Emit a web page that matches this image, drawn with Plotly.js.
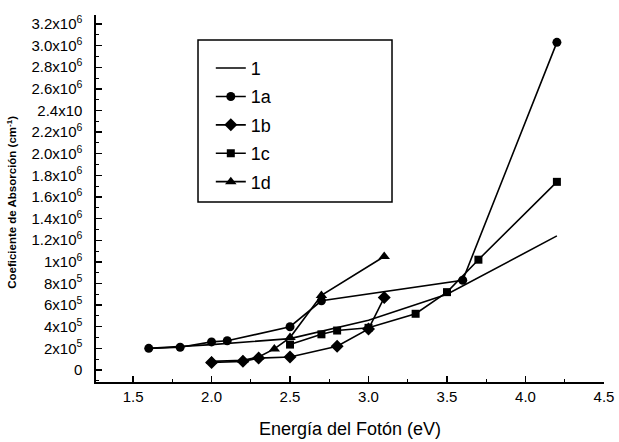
<!DOCTYPE html>
<html>
<head>
<meta charset="utf-8">
<script src="https://cdn.plot.ly/plotly-3.0.1.min.js"></script>
<style>html,body{margin:0;padding:0;background:#fff;}#chart{width:619px;height:442px;}</style>
</head>
<body>
<div id="chart"></div>
<script>
// Data
var x1  = [1.6, 2.0, 2.5, 3.0, 3.5, 4.2];
var y1  = [200000, 235000, 290000, 460000, 700000, 1240000];

var x1a = [1.6, 1.8, 2.0, 2.1, 2.5, 2.7, 3.6, 4.2];
var y1a = [200000, 210000, 260000, 270000, 400000, 640000, 830000, 3030000];

var x1b = [2.0, 2.2, 2.3, 2.5, 2.8, 3.0, 3.1];
var y1b = [70000, 80000, 110000, 120000, 220000, 380000, 670000];

var x1c = [2.5, 2.7, 2.8, 3.0, 3.3, 3.5, 3.7, 4.2];
var y1c = [235000, 330000, 365000, 390000, 520000, 720000, 1020000, 1740000];

var x1d = [2.0, 2.2, 2.3, 2.4, 2.5, 2.7, 3.1];
var y1d = [80000, 90000, 120000, 195000, 300000, 690000, 1050000];

var seriesNames = ['1', '1a', '1b', '1c', '1d'];

var yTickVals = [0, 200000, 400000, 600000, 800000, 1000000, 1200000, 1400000, 1600000,
                 1800000, 2000000, 2200000, 2400000, 2600000, 2800000, 3000000, 3200000];
var yTickText = ['0', '2x10<sup>5</sup>', '4x10<sup>5</sup>', '6x10<sup>5</sup>', '8x10<sup>5</sup>',
                 '1x10<sup>6</sup>', '1.2x10<sup>6</sup>', '1.4x10<sup>6</sup>', '1.6x10<sup>6</sup>',
                 '1.8x10<sup>6</sup>', '2.0x10<sup>6</sup>', '2.2x10<sup>6</sup>', '2.4x10',
                 '2.6x10<sup>6</sup>', '2.8x10<sup>6</sup>', '3.0x10<sup>6</sup>', '3.2x10<sup>6</sup>'];
var xTickVals = [1.5, 2.0, 2.5, 3.0, 3.5, 4.0, 4.5];
var xTickText = ['1.5', '2.0', '2.5', '3.0', '3.5', '4.0', '4.5'];

var yTitle = 'Coeficiente de Absorción (cm<sup>-1</sup>)';
var xTitle = 'Energía del Fotón (eV)';

var line = {color: '#000', width: 1.6};
function tr(x, y, name, mode, symbol, size) {
  var t = {x: x, y: y, name: name, mode: mode, type: 'scatter', line: line,
           legendgroup: name, cliponaxis: false};
  if (symbol) t.marker = {symbol: symbol, size: size, color: '#000'};
  return t;
}
var data = [
  tr(x1, y1, seriesNames[0], 'lines'),
  tr(x1a, y1a, seriesNames[1], 'lines+markers', 'circle', 9),
  tr(x1b, y1b, seriesNames[2], 'lines+markers', 'diamond', 10),
  tr(x1c, y1c, seriesNames[3], 'lines+markers', 'square', 8),
  tr(x1d, y1d, seriesNames[4], 'lines+markers', 'triangle-up', 10)
];

var ff = 'Liberation Sans, Arial, sans-serif';
var layout = {
  width: 619, height: 442,
  margin: {l: 96, r: 15, t: 15, b: 60},
  paper_bgcolor: '#fff', plot_bgcolor: '#fff',
  font: {family: ff, color: '#000', size: 13},
  showlegend: true,
  legend: {
    x: 0.226, y: 0.905, xanchor: 'left', yanchor: 'top',
    borderwidth: 0, bgcolor: 'rgba(0,0,0,0)',
    font: {family: ff, size: 18, color: '#000'},
    tracegroupgap: 2
  },
  shapes: [{
    type: 'rect', xref: 'paper', yref: 'paper',
    x0: 0.2008, x1: 0.5827, y0: 0.4905, y1: 0.9319,
    line: {color: '#000', width: 1.5}, fillcolor: 'rgba(0,0,0,0)', layer: 'below'
  }],
  annotations: [{
    text: '<b>' + yTitle + '</b>', xref: 'paper', yref: 'paper',
    x: -0.166, y: 0.49, xanchor: 'center', yanchor: 'middle', textangle: -90,
    showarrow: false, font: {family: ff, size: 11.5, color: '#000'}
  }],
  xaxis: {
    range: [1.264, 4.5], showgrid: false, zeroline: false,
    showline: true, linecolor: '#000', linewidth: 1.6, mirror: false,
    ticks: 'inside', ticklen: 6, tickwidth: 1.3, tickcolor: '#000',
    tickmode: 'array', tickvals: xTickVals, ticktext: xTickText,
    tickfont: {family: ff, size: 15, color: '#000'},
    minor: {dtick: 0.25, tick0: 0, ticks: 'inside', ticklen: 3, tickcolor: '#000', tickwidth: 1},
    title: {text: xTitle, font: {family: ff, size: 18, color: '#000'}, standoff: 19}
  },
  yaxis: {
    range: [-111000, 3283000], showgrid: false, zeroline: false,
    showline: true, linecolor: '#000', linewidth: 1.6, mirror: false,
    ticks: 'inside', ticklen: 6, tickwidth: 1.3, tickcolor: '#000',
    tickmode: 'array', tickvals: yTickVals, ticktext: yTickText,
    tickfont: {family: ff, size: 15, color: '#000'},
    ticklabelstandoff: 9,
    minor: {dtick: 100000, tick0: 0, ticks: 'inside', ticklen: 3, tickcolor: '#000', tickwidth: 1}
  }
};
Plotly.newPlot('chart', data, layout, {displayModeBar: false, staticPlot: true});
</script>
</body>
</html>
